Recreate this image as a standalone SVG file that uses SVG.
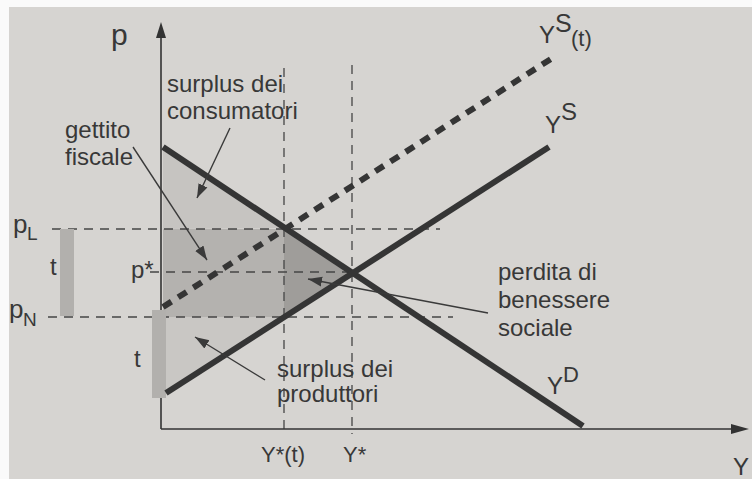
<svg xmlns="http://www.w3.org/2000/svg" width="752" height="479" viewBox="0 0 752 479">
<style>
text{font-family:"Liberation Sans",Arial,sans-serif;fill:#383838}
.lbl{font-size:24px}
.guide{stroke:#454545;stroke-width:1.3;stroke-dasharray:9 7;fill:none}
.curve{stroke:#353535;stroke-width:6;fill:none}
.lead{stroke:#3a3a3a;stroke-width:1.4;fill:none}
</style>
<defs>
<marker id="ahL" viewBox="0 0 10 10" refX="10" refY="5" markerWidth="14" markerHeight="14" markerUnits="userSpaceOnUse" orient="auto">
<path d="M0,1.5 L10,5 L0,8.5 Z" fill="#3a3a3a"/>
</marker>
</defs>
<rect width="752" height="479" fill="#d6d4d1"/>
<rect width="752" height="7" fill="#fafafa"/>
<rect width="9" height="479" fill="#fafafa"/>

<g id="areas">
<polygon id="consumer-surplus" points="163,147 284,228 163,229" fill="#c6c4c1"/>
<rect id="tax-revenue" x="163" y="229" width="121" height="88" fill="#b4b2af"/>
<polygon id="deadweight-loss" points="284,228 352,273 284,317" fill="#9f9d9a"/>
<polygon id="producer-surplus" points="163,317 284,317 166,394" fill="#c9c7c4"/>
</g>

<g id="guides">
<line class="guide" x1="52" y1="229" x2="440" y2="229"/>
<line class="guide" x1="150" y1="272" x2="352" y2="272"/>
<line class="guide" x1="48" y1="317" x2="453" y2="317"/>
<line class="guide" x1="284" y1="68" x2="284" y2="434"/>
<line class="guide" x1="352" y1="65" x2="352" y2="434"/>
</g>

<g id="axes">
<line x1="161" y1="36" x2="161" y2="429" stroke="#333" stroke-width="1.6"/>
<polygon points="161,22 156,38 166,38" fill="#333"/>
<line x1="161" y1="429" x2="732" y2="429" stroke="#333" stroke-width="1.6"/>
<polygon points="749,429 731,424 731,434" fill="#333"/>
</g>

<g id="bars">
<rect id="t-bar-left" x="60" y="229" width="14" height="87" fill="#b2b0ad"/>
<rect id="t-bar-axis" x="152" y="310" width="14" height="88" fill="#b2b0ad"/>
</g>

<g id="curves">
<line id="YD" class="curve" x1="163" y1="147" x2="583" y2="426"/>
<line id="YS" class="curve" x1="166" y1="393" x2="549" y2="147"/>
<line id="YSt" class="curve" x1="163" y1="307" x2="554" y2="57" stroke-width="7.5" stroke-dasharray="10 8"/>
</g>

<g id="connectors">
<line class="lead" x1="230" y1="128" x2="197" y2="198" marker-end="url(#ahL)"/>
<line class="lead" x1="133" y1="147" x2="207" y2="260" marker-end="url(#ahL)"/>
<line class="lead" x1="488" y1="313" x2="308" y2="279" marker-end="url(#ahL)"/>
<line class="lead" x1="265" y1="380" x2="195" y2="337" marker-end="url(#ahL)"/>
</g>

<g id="labels">
<text x="111" y="45" font-size="30">p</text>
<text x="733" y="475" font-size="24">Y</text>
<text x="13" y="233" font-size="26">p</text><text x="27" y="240" font-size="19">L</text>
<text x="9" y="318" font-size="26">p</text><text x="23" y="326" font-size="19">N</text>
<text x="131" y="278" font-size="24">p*</text>
<text x="50" y="275" font-size="24">t</text>
<text x="134" y="367" font-size="24">t</text>
<text x="261" y="462" font-size="22">Y*(t)</text>
<text x="343" y="462" font-size="22">Y*</text>
<text x="539" y="43" font-size="24">Y</text><text x="555" y="32" font-size="25">S</text><text x="571" y="46" font-size="22">(t)</text>
<text x="545" y="133" font-size="24">Y</text><text x="561" y="120" font-size="24">S</text>
<text x="547" y="394" font-size="24">Y</text><text x="563" y="382" font-size="22">D</text>
<text class="lbl" x="167" y="92">surplus dei</text>
<text class="lbl" x="167" y="119">consumatori</text>
<text class="lbl" x="65" y="138">gettito</text>
<text class="lbl" x="65" y="165">fiscale</text>
<text class="lbl" x="498" y="280">perdita di</text>
<text class="lbl" x="498" y="308">benessere</text>
<text class="lbl" x="498" y="336">sociale</text>
<text class="lbl" x="277" y="377">surplus dei</text>
<text class="lbl" x="277" y="402">produttori</text>
</g>
</svg>
